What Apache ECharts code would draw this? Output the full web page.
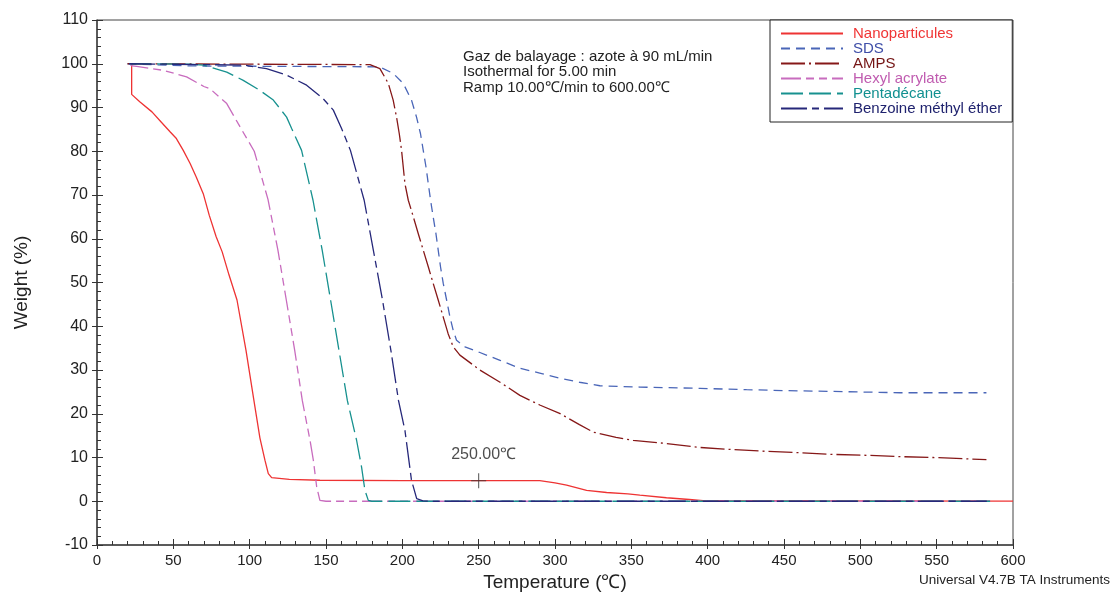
<!DOCTYPE html>
<html><head><meta charset="utf-8">
<script src="https://cdn.jsdelivr.net/npm/echarts@6/dist/echarts.min.js"></script>
<style>html,body{margin:0;padding:0;background:#fff}#c{width:1113px;height:592px}</style>
</head><body><div id="c"></div>
<script>
// ---- data (Temperature °C, Weight %) ----
const seriesNames = ['Nanoparticules','SDS','AMPS','Hexyl acrylate','Pentadécane','Benzoine méthyl éther'];
const nanoparticules = [[22.7,100],[22.7,93],[28,91.3],[36,89],[42,86.7],[48,84.4],[52,82.9],[56.5,80.2],[61,77.2],[65,74.1],[69.6,70.3],[73.5,65.4],[78,60.5],[82,57],[86.5,51.7],[91.7,46],[97.6,34.5],[102.8,23],[106.7,14.5],[110,9.4],[112.2,6.3],[114.4,5.4],[126,5.0],[146,4.8],[200,4.7],[290,4.7],[300,4.2],[307.6,3.7],[320.7,2.5],[333.8,2.0],[347.7,1.7],[355.6,1.4],[373,0.8],[388,0.4],[397,0.15],[460,0.1],[600,0.05]];
const sds = [[20,100],[60,99.5],[185,99.3],[194,97.8],[200.6,95.5],[206,91.7],[209.3,87.8],[211.9,84],[213.7,80.2],[215.5,76.4],[217,72.6],[218.5,68.8],[220.2,65],[222,61.2],[223.5,57.4],[225,53.6],[226.8,49.8],[229,46],[231.2,42.1],[233.3,39.1],[235.5,36.8],[241,35.3],[250.8,34],[264,32.2],[277,30.4],[290,29.3],[303,28.1],[316,27.2],[329.4,26.4],[355.6,26.1],[395,25.8],[425.5,25.5],[449.5,25.3],[482,25.1],[526,24.8],[582.6,24.8]];
const amps = [[20,100],[178.8,99.8],[185.3,98.9],[190.8,95.5],[194,91.7],[196.2,87.8],[198,84],[199.5,80.2],[200.6,76.4],[201.7,72.6],[203.9,68.8],[207.2,65],[210.4,61.2],[213.7,57.4],[217,53.6],[220.2,49.8],[223.5,46],[226.8,42.1],[230,38.3],[233.3,35.3],[237.7,33.4],[250.8,30],[264,27.2],[277,24.2],[290,22],[303,20.1],[316,17.5],[325,15.8],[340,14.6],[351.2,13.9],[373,13.2],[394.9,12.3],[416.7,11.8],[438.6,11.4],[460.4,11.1],[482.2,10.7],[504,10.5],[525.9,10.2],[547.7,10],[569.5,9.7],[582.6,9.5]];
const hexylAcrylate = [[21,100],[23,99.5],[26,99.4],[43.4,98.5],[58.7,97],[70,94.8],[74,94.3],[85,90.9],[92.5,86.3],[103,80],[112,69],[118.5,57.4],[124,46],[129.5,34.5],[134.5,23],[139.5,14],[141.7,9.4],[143.9,3.3],[146,0.2],[150,0],[585,0]];
const pentadecane = [[21,100],[60,99.9],[69.6,99.7],[85,98.1],[95.8,96.2],[106.7,93.9],[115.5,91.7],[124.2,87.8],[127.5,85.2],[134,80.2],[141.5,68.8],[147.5,57.4],[153,46],[158.5,34.5],[164,23],[170,14],[173.3,7.8],[175.5,2.5],[177.7,0.2],[180,0],[585,0]];
const benzoine = [[21,100],[95.8,99.7],[111,98.9],[124.2,97.4],[137.3,95.1],[148.2,92],[154.8,89.4],[160.2,85.2],[166,80.2],[175,68.8],[181,57.4],[187,46],[192.5,34.5],[197.5,23],[201.7,16.2],[206,4.8],[209.4,0.6],[213.5,0.1],[220,0],[585,0]];
const markerPoint = [[250,4.7]];
const markerLabel = '250.00℃';
const infoLines = ['Gaz de balayage : azote à 90 mL/min','Isothermal for 5.00 min','Ramp 10.00℃/min to 600.00℃'];
const footer = 'Universal V4.7B TA Instruments';

const allData = [nanoparticules, sds, amps, hexylAcrylate, pentadecane, benzoine];
const lineColors = ['#ee3333','#4a66b8','#861818','#c86cbe','#17918f','#26287a'];
const textColors = ['#f03535','#3e4ea8','#741414','#c05cb0','#119090','#1f226e'];
const dashes = ['solid',[9,6],[24,4,2,4],[20,5,8,5,8,5],[22,6],[26,5,7,5]];

const font = 'Liberation Sans, Arial, sans-serif';
const chart = echarts.init(document.getElementById('c'));
const series = seriesNames.map((n,i)=>({
  name:n, type:'line', data:allData[i], showSymbol:false, symbol:'none',
  lineStyle:{color:lineColors[i], width:1.3, type:dashes[i]},
  itemStyle:{color:lineColors[i]}, z:2+i
}));
series.push({
  type:'scatter', data:markerPoint, xAxisIndex:0, yAxisIndex:0,
  symbol:'path://M-7,-0.5H7V0.5H-7Z M-0.5,-7H0.5V7H-0.5Z', symbolSize:15,
  itemStyle:{color:'#333'}, z:20, silent:true,
  label:{show:true, formatter:markerLabel, position:'top', distance:11, offset:[5,0], color:'#222', fontSize:16, fontFamily:font}
});
chart.setOption({
  animation:false,
  grid:{left:97, right:100, top:20, bottom:47, show:true, borderColor:'#444', borderWidth:1, containLabel:false, outerBoundsMode:'none'},
  legend:{
    orient:'vertical', left:770, top:20, backgroundColor:'#fff', borderColor:'#222', borderWidth:1,
    padding:[6,10,6,10], itemWidth:62, itemHeight:10, itemGap:0,
    itemStyle:{opacity:0, color:'rgba(0,0,0,0)', borderWidth:0},
    data:seriesNames.map((n,i)=>({name:n, textStyle:{color:textColors[i]}})),
    textStyle:{fontSize:15, fontFamily:font, lineHeight:14.6, padding:[0,0,0,5]}
  },
  xAxis:[{
    type:'value', min:0, max:600, interval:50,
    name:'Temperature (℃)', nameLocation:'middle', nameGap:28,
    nameTextStyle:{fontSize:19, color:'#222', fontFamily:font},
    axisLine:{onZero:false, lineStyle:{color:'#444', width:1.5}},
    axisTick:{inside:true, length:6, lineStyle:{color:'#333'}},
    minorTick:{show:true, splitNumber:5, length:4, lineStyle:{color:'#333'}},
    axisLabel:{fontSize:15, color:'#222', fontFamily:font, margin:8},
    splitLine:{show:false}
  },{
    type:'value', min:0, max:600, interval:50, position:'bottom',
    axisLine:{show:false, onZero:false}, axisTick:{show:true, length:4, lineStyle:{color:'#333'}}, axisLabel:{show:false}, splitLine:{show:false}
  }],
  yAxis:[{
    type:'value', min:-10, max:110, interval:10,
    name:'Weight (%)', nameLocation:'middle', nameGap:66,
    nameTextStyle:{fontSize:19, color:'#222', fontFamily:font},
    axisLine:{onZero:false, lineStyle:{color:'#444', width:1.5}},
    axisTick:{inside:true, length:6, lineStyle:{color:'#333'}},
    minorTick:{show:true, splitNumber:5, length:4, lineStyle:{color:'#333'}},
    axisLabel:{fontSize:16, color:'#222', fontFamily:font, margin:9},
    splitLine:{show:false}
  },{
    type:'value', min:-10, max:110, interval:10, position:'left',
    axisLine:{show:false, onZero:false}, axisTick:{show:true, length:5, lineStyle:{color:'#333'}}, axisLabel:{show:false}, splitLine:{show:false}
  }],
  series:series,
  graphic:[
    {type:'text', left:463, top:49, style:{text:infoLines.join('\n'), fontSize:15, lineHeight:15.5, fill:'#222', fontFamily:font}},
    {type:'text', right:3, top:573, style:{text:footer, fontSize:13.5, fill:'#222', fontFamily:font}}
  ]
});
</script></body></html>
